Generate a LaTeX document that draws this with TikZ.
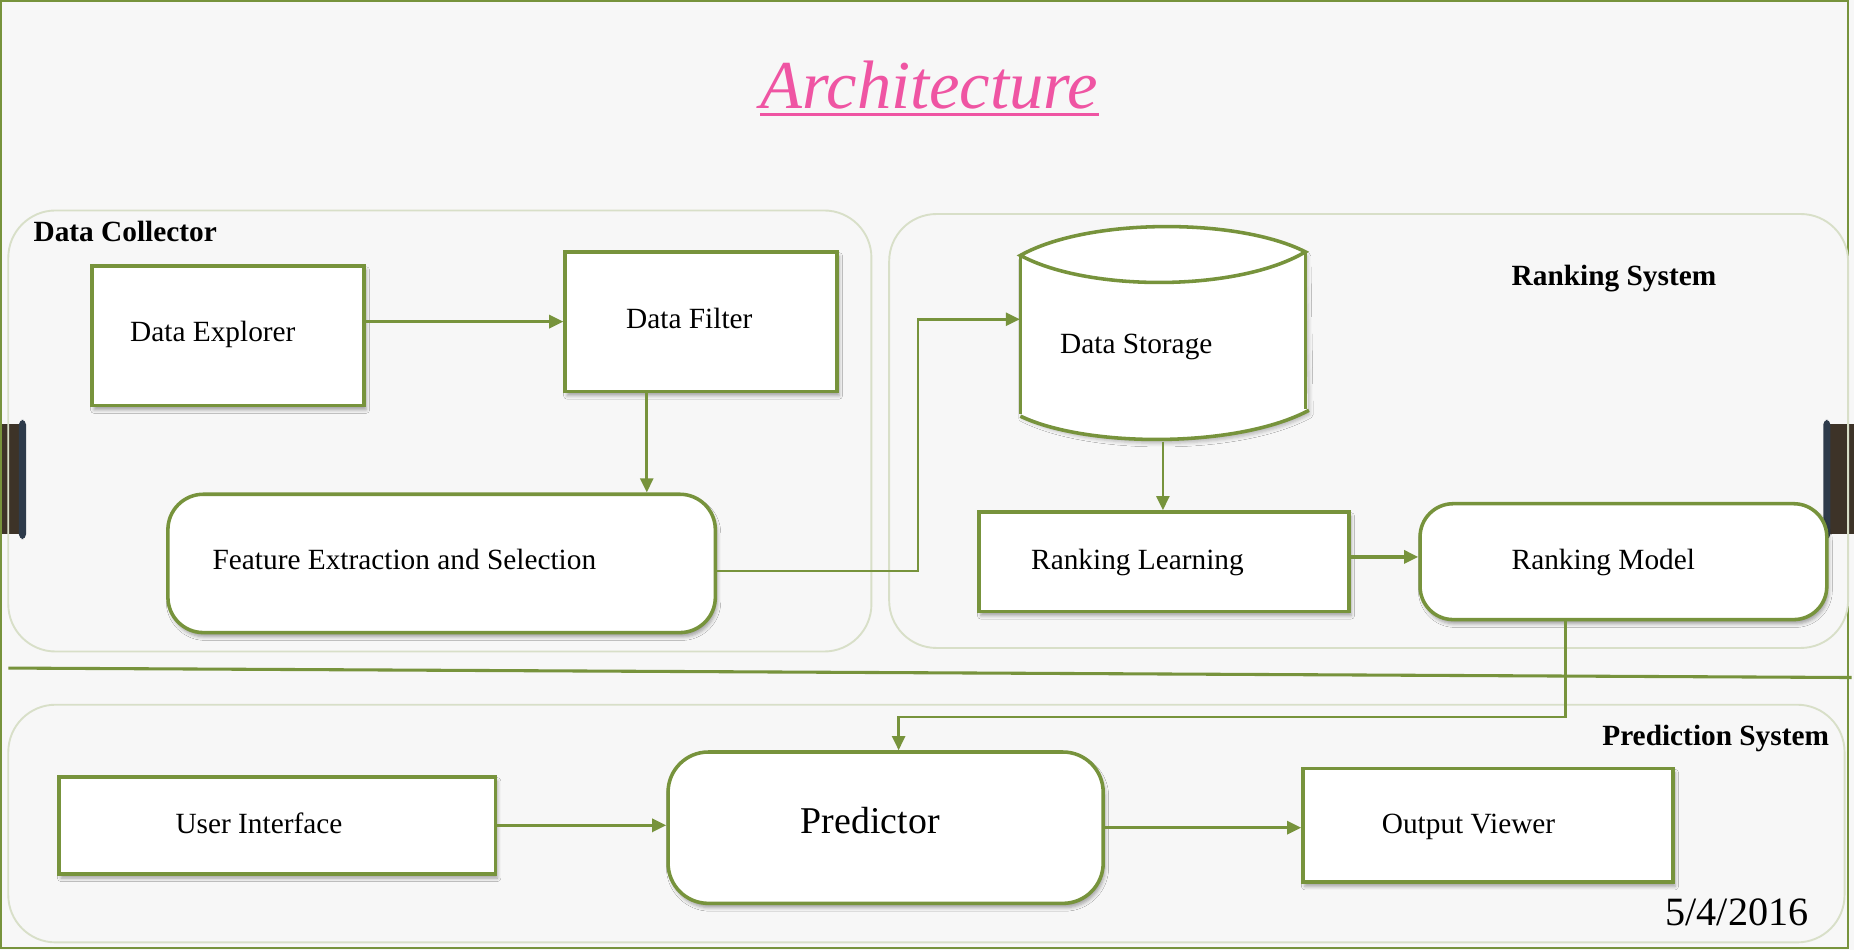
\documentclass[tikz,border=0pt]{standalone}
\usepackage{fontspec}
\setmainfont{Liberation Serif}
\usetikzlibrary{arrows.meta,shadows.blur}
\definecolor{olive}{HTML}{77933C}
\definecolor{grpc}{HTML}{D8DFC8}
\definecolor{bgc}{HTML}{F7F7F7}
\definecolor{pinkc}{HTML}{EF55A3}
\definecolor{tabc}{HTML}{3D3328}
\definecolor{rodc}{HTML}{2E3B4B}
\tikzset{
  box/.style={rectangle, draw=olive, line width=1.5pt, fill=white,
    blur shadow={shadow xshift=0.8pt, shadow yshift=-1.8pt, shadow blur radius=1.5pt, shadow opacity=35}},
  rbox/.style={box, rounded corners=#1},
  grp/.style={rectangle, draw=grpc, line width=0.8pt, rounded corners=20pt},
  lbl/.style={inner sep=0pt, text height=0.66em, text depth=0pt, font=\fontsize{12.4pt}{15pt}\selectfont},
  glbl/.style={lbl, font=\fontsize{12.4pt}{15pt}\selectfont\bfseries},
  arr/.style={draw=olive, line width=1.35pt, -{Triangle[length=6pt,width=5.5pt]}},
  arrthin/.style={arr, line width=1.1pt}
}
\begin{document}
\begin{tikzpicture}[x=0.5pt,y=-0.5pt]
\useasboundingbox (0,0) rectangle (1568,803.4);
\fill[bgc] (0,0) rectangle (1568,803.4);
% tabs
\fill[tabc] (0,359) rectangle (21,452);
\fill[rodc, rounded corners=2pt] (16,355) rectangle (22,456);
\fill[tabc] (1545,359) rectangle (1568,452);
\fill[rodc, rounded corners=2pt] (1542,355) rectangle (1548,456);
% frame
\draw[olive, line width=1pt] (1,1) rectangle (1563,802);
% groups
\node[grp, minimum width=365pt, minimum height=186.5pt] (dc) at (372,364.5) {};
\node[grp, minimum width=405.5pt, minimum height=183.5pt] (rs) at (1157.5,364.5) {};
\node[grp, minimum width=776.5pt, minimum height=100.5pt] (ps) at (783.5,696.5) {};
% separator
\draw[olive, line width=1.3pt] (7,565) -- (1566,573);
% title
\node[inner sep=0pt, anchor=base, text=pinkc, font=\fontsize{29pt}{34pt}\selectfont\itshape] (title) at (786,92) {Architecture};
\draw[pinkc, line width=1.1pt] ([yshift=-2.5pt]title.base west) -- ([yshift=-2.5pt]title.base east);
% group labels
\node[glbl, anchor=west] (dcl) at (28,198) {Data Collector};
\node[glbl] (rsl) at (1365,235) {Ranking System};
\node[glbl] (psl) at (1451,624) {Prediction System};
% boxes
\node[box, minimum width=115pt, minimum height=59pt] (explorer) at (193,284) {};
\node[box, minimum width=115pt, minimum height=59pt] (filter) at (593,272) {};
\node[rbox=15pt, minimum width=231.5pt, minimum height=58.5pt] (feature) at (373.5,476.5) {};
\node[box, minimum width=156.5pt, minimum height=42pt] (learning) at (984.5,475) {};
\node[rbox=14pt, minimum width=172pt, minimum height=49pt] (model) at (1373,475) {};
\node[box, minimum width=184.5pt, minimum height=41pt] (ui) at (234.5,698) {};
\node[rbox=17pt, minimum width=184pt, minimum height=64pt] (predictor) at (749,700) {};
\node[box, minimum width=156.5pt, minimum height=48pt] (output) at (1258.5,698) {};
% storage cylinder
\node[rectangle, inner sep=0pt, minimum width=120.5pt, minimum height=68.5pt] (storage) at (983.5,281.5) {};
\fill[white, blur shadow={shadow xshift=0.8pt, shadow yshift=-1.8pt, shadow blur radius=1.5pt, shadow opacity=25}]
  (863,216) .. controls (920,184) and (1047,184) .. (1104,213) -- (1106,347)
  .. controls (1047,379) and (920,379) .. (863,350) -- cycle;
\draw[olive, line width=1.5pt] (863,216) .. controls (920,184) and (1047,184) .. (1104,213)
  .. controls (1047,247) and (920,247) .. (863,216) -- cycle;
\draw[olive, line width=1.2pt] (863,216) -- (863,350);
\draw[olive, line width=1.2pt] (1104,213) -- (1104,346);
\draw[olive, line width=1.5pt] (863,352) .. controls (920,379) and (1047,379) .. (1107,347);
% texts
\node[lbl] (texplorer) at (180,282) {Data Explorer};
\node[lbl] (tfilter) at (583,271) {Data Filter};
\node[lbl] (tfeature) at (342,475) {Feature Extraction and Selection};
\node[lbl] (tstorage) at (961,292) {Data Storage};
\node[lbl] (tlearning) at (962,475) {Ranking Learning};
\node[lbl] (tmodel) at (1356,475) {Ranking Model};
\node[lbl] (tui) at (219,698) {User Interface};
\node[lbl, font=\fontsize{16pt}{19pt}\selectfont] (tpredictor) at (736,698) {Predictor};
\node[lbl] (toutput) at (1242,698) {Output Viewer};
\node[inner sep=0pt, anchor=base, font=\fontsize{17pt}{20pt}\selectfont] (date) at (1469,783) {5/4/2016};
% connectors
\draw[arr] (explorer.east |- filter.west) -- (filter.west);
\draw[arrthin] ([xshift=-23pt]filter.south) -- ([xshift=-23pt]filter.south |- feature.north);
\draw[arrthin] ([yshift=-3.25pt]feature.east) -- ++(170,0) |- ([yshift=5.75pt]storage.west);
\draw[arrthin] ([yshift=-11.5pt]storage.south) -- (storage.south |- learning.north);
\draw[arr] ([yshift=2pt]learning.east) -- ([yshift=2pt]model.west);
\draw[arrthin] ([xshift=-24.5pt]model.south) -- ++(0,81) -| ([xshift=5.5pt]predictor.north);
\draw[arr] (ui.east) -- (ui.east -| predictor.west);
\draw[arr] (predictor.east) -- (predictor.east -| output.west);
\end{tikzpicture}
\end{document}
